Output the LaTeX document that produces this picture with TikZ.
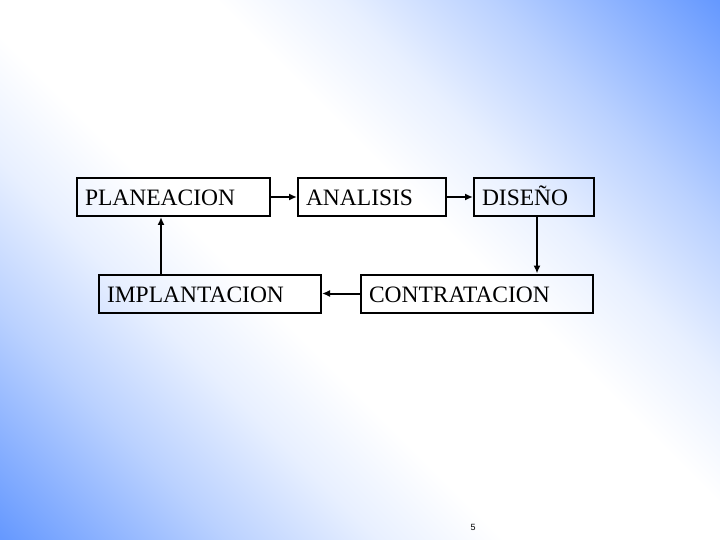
\documentclass[tikz,border=0pt]{standalone}
\usepackage{fontspec}
\setmainfont{Liberation Serif}
\setsansfont{Liberation Sans}
\usetikzlibrary{arrows.meta}
\definecolor{slideblue}{RGB}{102,153,255}
\pgfdeclareverticalshading{slideshade}{100bp}{color(0bp)=(slideblue); color(25bp)=(slideblue); color(34bp)=(slideblue!45!white); color(40bp)=(slideblue!15!white); color(45bp)=(white); color(55bp)=(white); color(60bp)=(slideblue!15!white); color(66bp)=(slideblue!45!white); color(75bp)=(slideblue); color(100bp)=(slideblue)}
\begin{document}
\begin{tikzpicture}[x=1pt,y=-1pt,
  box/.style={draw, line width=2pt, anchor=west, minimum height=38pt, inner xsep=8pt, text height=19pt, text depth=2pt, align=left, font=\fontsize{23.5}{27}\selectfont},
  arr/.style={line width=2pt, -{Latex[length=8pt,width=7pt]}}]
\useasboundingbox (0,0) rectangle (720,540);
\begin{scope}
\clip (0,0) rectangle (720,540);
\shade[shading=slideshade, shading angle=-45] (-85.5,-175.5) rectangle (805.5,715.5);
\end{scope}
\node[box, text width=177pt] (plan) at (76,197) {PLANEACION};
\node[box, text width=132pt] (anal) at (297,197) {ANALISIS};
\node[box, text width=104pt] (dis) at (473,197) {DISEÑO};
\node[box, text width=206pt] (impl) at (98,293.5) {IMPLANTACION};
\node[box, text width=216pt] (contr) at (360,293.5) {CONTRATACION};
\draw[arr] (plan.east) -- (anal.west);
\draw[arr] (anal.east) -- (dis.west);
\draw[arr] ([xshift=3pt]dis.south) -- ([xshift=3pt]dis.south |- contr.north);
\draw[arr] (contr.west) -- (impl.east);
\draw[arr] ([xshift=63pt]impl.north west) -- ([xshift=63pt]impl.north west |- plan.south);
\node[font=\sffamily\fontsize{9}{10}\selectfont] (pgnum) at (473,527) {5};
\end{tikzpicture}
\end{document}
